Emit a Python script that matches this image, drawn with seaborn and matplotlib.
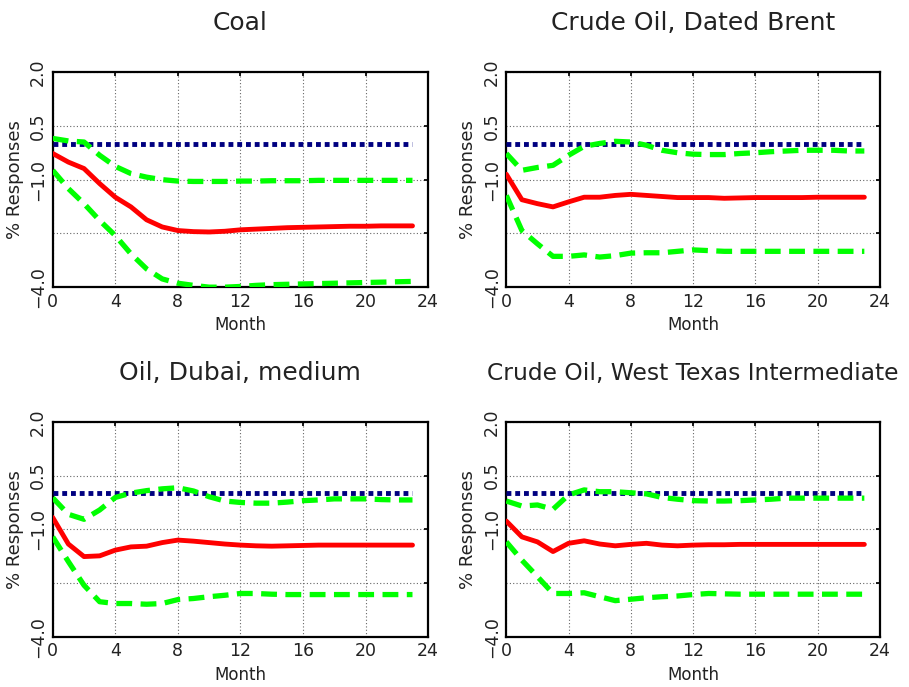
import numpy as np
import pandas as pd
import seaborn as sns
import matplotlib.pyplot as plt

# --- Data ---
months = list(range(24))
titles = ["Coal", "Crude Oil, Dated Brent", "Oil, Dubai, medium",
          "Crude Oil, West Texas Intermediate"]

coal_mid = [-0.27, -0.51, -0.69, -1.11, -1.49, -1.76, -2.12, -2.32, -2.42, -2.45, -2.46, -2.44,
            -2.40, -2.38, -2.36, -2.34, -2.33, -2.32, -2.31, -2.30, -2.30, -2.29, -2.29, -2.29]
coal_up = [0.15, 0.08, 0.05, -0.32, -0.63, -0.83, -0.93, -1.00, -1.04, -1.05, -1.05, -1.05,
           -1.04, -1.04, -1.03, -1.03, -1.03, -1.02, -1.02, -1.02, -1.02, -1.02, -1.02, -1.02]
coal_lo = [-0.74, -1.25, -1.67, -2.14, -2.56, -3.07, -3.49, -3.77, -3.89, -3.95, -4.00, -4.00,
           -3.98, -3.95, -3.93, -3.92, -3.91, -3.90, -3.89, -3.88, -3.87, -3.86, -3.85, -3.84]

brent_mid = [-0.85, -1.56, -1.67, -1.76, -1.62, -1.49, -1.49, -1.44, -1.41, -1.44, -1.47, -1.50,
             -1.50, -1.50, -1.52, -1.51, -1.50, -1.50, -1.50, -1.50, -1.49, -1.49, -1.49, -1.49]
brent_up = [-0.27, -0.74, -0.66, -0.60, -0.32, -0.07, 0.01, 0.07, 0.05, -0.04, -0.18, -0.25,
            -0.29, -0.30, -0.30, -0.27, -0.25, -0.22, -0.20, -0.18, -0.18, -0.18, -0.20, -0.20]
brent_lo = [-1.44, -2.42, -2.79, -3.14, -3.14, -3.10, -3.16, -3.12, -3.05, -3.04, -3.04, -3.00,
            -2.96, -2.98, -3.00, -3.00, -3.00, -3.00, -3.00, -3.00, -3.00, -3.00, -3.00, -3.00]

dubai_mid = [-0.67, -1.41, -1.76, -1.74, -1.58, -1.49, -1.47, -1.37, -1.30, -1.33, -1.37, -1.41,
             -1.44, -1.46, -1.47, -1.46, -1.45, -1.44, -1.44, -1.44, -1.44, -1.44, -1.44, -1.44]
dubai_up = [-0.12, -0.58, -0.72, -0.46, -0.11, 0.01, 0.08, 0.13, 0.16, 0.07, -0.09, -0.21,
            -0.25, -0.27, -0.27, -0.24, -0.20, -0.18, -0.15, -0.15, -0.15, -0.17, -0.18, -0.18]
dubai_lo = [-1.21, -1.90, -2.56, -3.02, -3.07, -3.07, -3.09, -3.07, -2.96, -2.93, -2.88, -2.84,
            -2.79, -2.79, -2.81, -2.82, -2.82, -2.82, -2.82, -2.82, -2.82, -2.82, -2.82, -2.82]

wti_mid = [-0.77, -1.21, -1.35, -1.62, -1.39, -1.32, -1.41, -1.46, -1.42, -1.39, -1.44, -1.46,
           -1.44, -1.43, -1.43, -1.42, -1.42, -1.42, -1.42, -1.42, -1.42, -1.42, -1.42, -1.42]
wti_up = [-0.21, -0.35, -0.32, -0.44, -0.04, 0.10, 0.05, 0.05, 0.02, -0.01, -0.11, -0.16,
          -0.20, -0.21, -0.21, -0.20, -0.18, -0.16, -0.13, -0.13, -0.13, -0.13, -0.13, -0.13]
wti_lo = [-1.35, -1.86, -2.32, -2.79, -2.79, -2.77, -2.88, -2.99, -2.95, -2.91, -2.88, -2.86,
          -2.82, -2.79, -2.80, -2.81, -2.81, -2.81, -2.81, -2.81, -2.81, -2.81, -2.81, -2.81]

zero_line = [0.0] * 24

panels = [
    (coal_mid, coal_up, coal_lo),
    (brent_mid, brent_up, brent_lo),
    (dubai_mid, dubai_up, dubai_lo),
    (wti_mid, wti_up, wti_lo),
]

yticks = [2.0, 0.5, -1.0, -2.5, -4.0]
ytick_labels = ["2.0", "0.5", "\u22121.0", "", "\u22124.0"]
xticks = [0, 4, 8, 12, 16, 20, 24]

sns.set_theme(style="white")
plt.rcParams["font.family"] = ["DejaVu Sans"]

fig = plt.figure(figsize=(9.09, 6.87), dpi=100)
# axes boxes: [left, bottom, width, height]
boxes = [
    [0.058, 0.582, 0.413, 0.313],
    [0.557, 0.582, 0.411, 0.313],
    [0.058, 0.073, 0.413, 0.313],
    [0.557, 0.073, 0.411, 0.313],
]
# long last title is shrunk a bit so it stays inside the figure
title_sizes = [18, 18, 18, 16.8]

for box, title, tsize, (mid, up, lo) in zip(boxes, titles, title_sizes, panels):
    ax = fig.add_axes(box)
    df = pd.DataFrame({"month": months, "mid": mid, "up": up, "lo": lo, "zero": zero_line})
    sns.lineplot(data=df, x="month", y="zero", ax=ax, color="#000080", lw=3.5,
                 linestyle=(0, (1, 0.8)), zorder=3)
    sns.lineplot(data=df, x="month", y="up", ax=ax, color="#00ff00", lw=3.8,
                 linestyle=(0, (3, 1.6)), zorder=4)
    sns.lineplot(data=df, x="month", y="lo", ax=ax, color="#00ff00", lw=3.8,
                 linestyle=(0, (3, 1.6)), zorder=4)
    sns.lineplot(data=df, x="month", y="mid", ax=ax, color="#ff0000", lw=3.5, zorder=5)

    ax.set_xlim(0, 24)
    ax.set_ylim(-4.0, 2.0)
    ax.set_xticks(xticks)
    ax.set_yticks(yticks)
    ax.set_yticklabels(ytick_labels, rotation=90, va="center")
    ax.tick_params(axis="both", labelsize=12.5, direction="in", length=3, color="black",
                   labelcolor="#222222", pad=4, top=True, right=True)
    ax.grid(True, linestyle=(0, (1, 2)), color="#666666", lw=0.8)
    for s in ax.spines.values():
        s.set_color("black")
        s.set_linewidth(1.6)
    ax.set_title(title, fontsize=tsize, pad=30, color="#222222")
    ax.set_xlabel("Month", fontsize=12, color="#222222", labelpad=4)
    ax.set_ylabel("% Responses", fontsize=13, color="#222222", labelpad=4)

fig.savefig("out.png", dpi=100)
